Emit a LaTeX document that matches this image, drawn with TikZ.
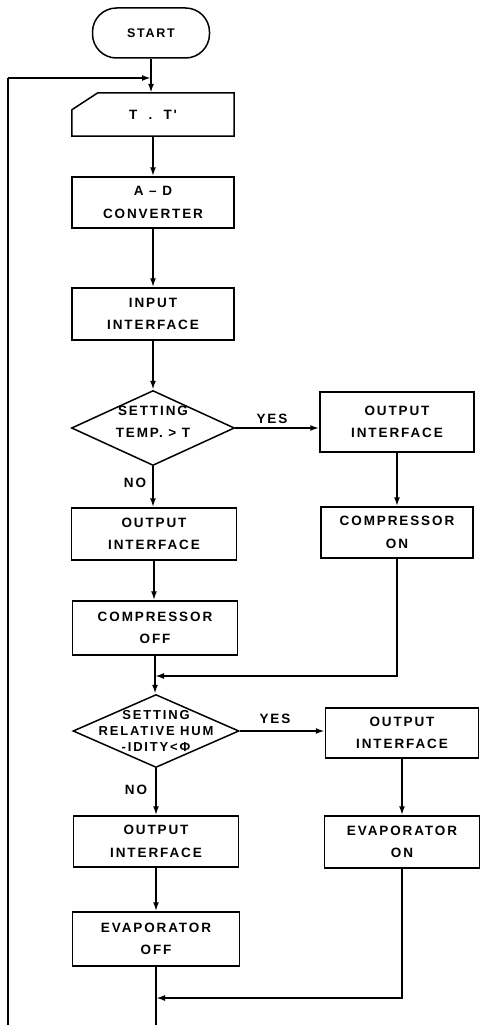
\documentclass[tikz,border=0pt]{standalone}
\usepackage{fontspec}
\newfontfamily\lbl[LetterSpace=14]{Liberation Sans}
\usetikzlibrary{arrows.meta,shapes.geometric}
\begin{document}
\begin{tikzpicture}[x=1pt,y=-1pt,
  every node/.style={font=\lbl\bfseries\fontsize{13.5}{22.5}\selectfont, align=center, inner sep=0pt},
  pbox/.style={draw, line width=1.5pt, rectangle, minimum width=#1, minimum height=52pt},
  dec/.style={draw, line width=1.5pt, diamond, aspect=2.2, minimum width=163pt, minimum height=75pt},
  lab/.style={font=\lbl\bfseries\fontsize{13.5}{14}\selectfont},
  conn/.style={line width=1.8pt},
  arr/.style={conn, -{Latex[length=9pt,width=6pt]}}
]
\useasboundingbox[fill=white] (0,0) rectangle (480,1025);
% nodes
\node[draw, line width=1.5pt, rounded corners=24pt, minimum width=117pt, minimum height=50pt] (start) at (151,33) {\fontsize{12.5}{14}\selectfont START};
\node[minimum width=162pt, minimum height=43pt] (tt) at (153,114.5) {T\ \ .\ \ T'};
\draw[line width=1.5pt] (tt.south west) -- (tt.south east) -- (tt.north east) -- ([xshift=26pt]tt.north west) -- ([yshift=-17pt]tt.north west) -- cycle;
\node[pbox=162pt, minimum height=51pt] (ad) at (153,202.5) {A \textendash\ D\\CONVERTER};
\node[pbox=162pt] (ii) at (153,314) {INPUT\\INTERFACE};
\node[dec] (d1) at (153,428) {};
\node at (153,422) {SETTING\\TEMP. \textgreater\ T};
\node[pbox=154pt, minimum height=60pt] (oir1) at (397,422) {OUTPUT\\INTERFACE};
\node[pbox=152pt, minimum height=51pt] (con) at (397,532.5) {COMPRESSOR\\ON};
\node[pbox=165pt] (oil1) at (154,534) {OUTPUT\\INTERFACE};
\node[pbox=165pt, minimum height=54pt] (coff) at (155,628) {COMPRESSOR\\OFF};
\node[dec, minimum width=166pt, minimum height=73pt] (d2) at (156,731) {};
\node[font=\lbl\bfseries\fontsize{13}{16}\selectfont] at (156,731) {SETTING\\RELATIVE HUM\\-IDITY\textless Φ};
\node[pbox=153pt, minimum height=50pt] (oir2) at (402,733) {OUTPUT\\INTERFACE};
\node[pbox=155pt] (eon) at (402,842) {EVAPORATOR\\ON};
\node[pbox=165pt, minimum height=51pt] (oil2) at (156,841.5) {OUTPUT\\INTERFACE};
\node[pbox=167pt, minimum height=54pt] (eoff) at (156,939) {EVAPORATOR\\OFF};
% labels
\node[lab] (y1) at (272,419) {YES};
\node[lab] (n1) at (135,483) {NO};
\node[lab] (y2) at (275,719) {YES};
\node[lab] (n2) at (136,790) {NO};
% coordinates
\coordinate (lb) at (8,1025);
\coordinate (lt) at (8,78);
\coordinate (j0) at (151,78);
\coordinate (m1) at (155,676);
\coordinate (m2) at (156,998);
\coordinate (bot) at (156,1025);
% connectors
\draw[conn] (lb) -- (lt);
\draw[arr] (lt) -- (j0);
\draw[arr] (start.south) -- (start.south |- tt.north);
\draw[arr] (tt.south) -- (ad.north);
\draw[arr] (ad.south) -- (ii.north);
\draw[arr] (ii.south) -- (d1.north);
\draw[arr] (d1.east) -- (d1.east -| oir1.west);
\draw[arr] (d1.south) -- (d1.south |- oil1.north);
\draw[arr] (oir1.south) -- (con.north);
\draw[arr] (oil1.south) -- (oil1.south |- coff.north);
\draw[arr] (coff.south) -- (coff.south |- d2.north);
\draw[arr] (con.south) |- (m1);
\draw[arr] (d2.east) -- (d2.east -| oir2.west);
\draw[arr] (d2.south) -- (oil2.north);
\draw[arr] (oir2.south) -- (eon.north);
\draw[arr] (oil2.south) -- (oil2.south |- eoff.north);
\draw[conn] (eoff.south) -- (bot);
\draw[arr] (eon.south) |- (m2);
\end{tikzpicture}
\end{document}
